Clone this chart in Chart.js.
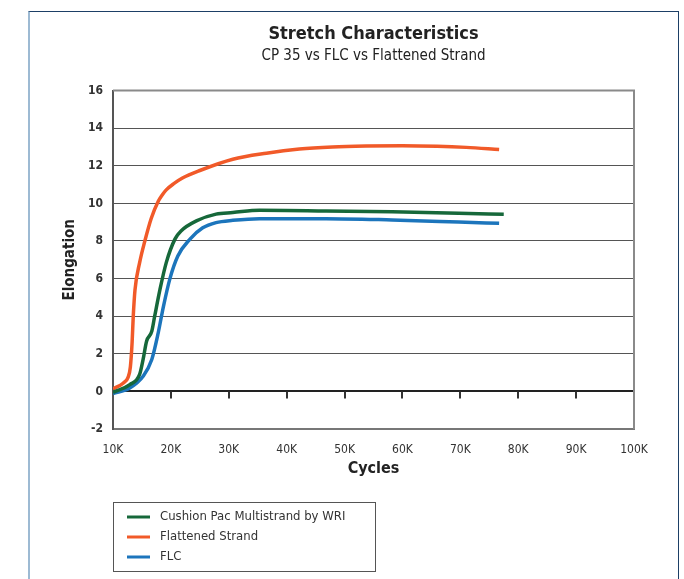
<!DOCTYPE html>
<html>
<head>
<meta charset="utf-8">
<script src="https://cdn.jsdelivr.net/npm/chart.js@4/dist/chart.umd.min.js"></script>
<style>
  body { margin: 0; background: #fff; }
  #frame {
    position: absolute; left: 28px; top: 11px; width: 648px; height: 600px;
    border-top: 1px solid #1d3f66; border-right: 1.5px solid #1d3f66; border-left: 2px solid #9dbad3;
  }
  #chart { position: absolute; left: 0; top: 0; }
</style>
</head>
<body>
<div id="frame"></div>
<canvas id="chart" width="684" height="579"></canvas>
<script>
  // cycles in thousands, elongation
  var cushionCycles = [10, 12.9, 14.6, 15.2, 15.8, 16.7, 17.2, 18.1, 19.2, 20.7, 21.8, 24.4, 27.8, 30.7, 35.3, 46.8, 58.2, 69.7, 77.5];
  var cushionElong  = [-0.05, 0.36, 0.9, 1.7, 2.67, 3.2, 4.0, 5.4, 6.85, 8.1, 8.55, 9.07, 9.43, 9.51, 9.64, 9.6, 9.55, 9.48, 9.42];

  var flatCycles = [10, 11.8, 12.6, 13.0, 13.3, 13.5, 13.8, 14.6, 15.5, 16.6, 17.8, 18.5, 19.2, 20.5, 22, 25, 30.7, 36.5, 42.2, 47.9, 53.7, 60, 66, 71, 76.7];
  var flatElong  = [0.13, 0.45, 0.75, 1.3, 2.6, 4.0, 5.4, 6.85, 8.0, 9.2, 10.1, 10.45, 10.72, 11.05, 11.35, 11.75, 12.35, 12.67, 12.89, 13.0, 13.05, 13.07, 13.04, 12.98, 12.87];

  var flcCycles = [10, 12.9, 15.2, 16.7, 17.8, 18.7, 19.8, 21.2, 23.3, 25.5, 27.8, 30.7, 35.3, 46.8, 58.2, 69.7, 76.7];
  var flcElong  = [-0.12, 0.18, 0.8, 1.7, 3.1, 4.5, 5.96, 7.2, 8.1, 8.7, 8.98, 9.1, 9.19, 9.19, 9.12, 9.01, 8.94];

  var seriesNames = ['Cushion Pac Multistrand by WRI', 'Flattened Strand', 'FLC'];
  var seriesColors = ['rgb(22,104,58)', 'rgb(241,90,41)', 'rgb(28,117,188)'];

  var FONT = "'Liberation Sans Narrow', 'DejaVu Sans Condensed', 'Roboto Condensed', sans-serif";

  function toPoints(xs, ys) {
    return xs.map(function (x, i) { return { x: x, y: ys[i] }; });
  }

  // top/right frame of the plot, ticks on the zero line and the boxed legend
  var extras = {
    id: 'extras',
    beforeDatasetsDraw: function (chart) {
      var ctx = chart.ctx, a = chart.chartArea, xs = chart.scales.x, ys = chart.scales.y;
      ctx.save();
      ctx.strokeStyle = '#8a8a8a';
      ctx.lineWidth = 2;
      ctx.beginPath();
      ctx.moveTo(a.left, a.top);
      ctx.lineTo(a.right, a.top);
      ctx.lineTo(a.right, a.bottom);
      ctx.stroke();
      var y0 = ys.getPixelForValue(0);
      ctx.strokeStyle = '#333';
      ctx.lineWidth = 2;
      xs.ticks.forEach(function (t) {
        if (t.value <= xs.min || t.value >= xs.max) return;
        var px = Math.round(xs.getPixelForValue(t.value));
        ctx.beginPath();
        ctx.moveTo(px, y0);
        ctx.lineTo(px, y0 + 7);
        ctx.stroke();
      });
      ctx.restore();
    },
    afterDraw: function (chart) {
      var ctx = chart.ctx, a = chart.chartArea;
      var left = a.left, top = chart.scales.x.bottom + 21;
      ctx.save();
      ctx.strokeStyle = '#555';
      ctx.lineWidth = 1;
      ctx.strokeRect(left + 0.5, top + 0.5, 262, 69);
      ctx.font = '13px ' + FONT;
      ctx.textBaseline = 'middle';
      chart.data.datasets.forEach(function (ds, i) {
        var y = top + 15 + i * 20;
        ctx.strokeStyle = ds.borderColor;
        ctx.lineWidth = 3;
        ctx.beginPath();
        ctx.moveTo(left + 14, y);
        ctx.lineTo(left + 37, y);
        ctx.stroke();
        ctx.fillStyle = '#333';
        ctx.fillText(ds.label, left + 47, y);
      });
      ctx.restore();
    }
  };

  var datasets = [
    toPoints(cushionCycles, cushionElong),
    toPoints(flatCycles, flatElong),
    toPoints(flcCycles, flcElong)
  ].map(function (pts, i) {
    return {
      label: seriesNames[i],
      data: pts,
      borderColor: seriesColors[i],
      backgroundColor: seriesColors[i],
      borderWidth: 3.5,
      pointRadius: 0,
      cubicInterpolationMode: 'monotone',
      fill: false
    };
  });

  new Chart(document.getElementById('chart').getContext('2d'), {
    type: 'line',
    data: { datasets: datasets },
    plugins: [extras],
    options: {
      responsive: false,
      animation: false,
      layout: { padding: { left: 0, right: 50, top: 0, bottom: 98 } },
      plugins: {
        legend: { display: false },
        tooltip: { enabled: false },
        title: {
          display: true,
          fullSize: false,
          text: 'Stretch Characteristics',
          color: '#222',
          font: { family: FONT, size: 18, weight: 'bold' },
          padding: { top: 24, bottom: 1 }
        },
        subtitle: {
          display: true,
          fullSize: false,
          text: 'CP 35 vs FLC vs Flattened Strand',
          color: '#222',
          font: { family: FONT, size: 15 },
          padding: { top: 1, bottom: 25 }
        }
      },
      scales: {
        x: {
          type: 'linear',
          min: 10,
          max: 100,
          afterFit: function (scale) { scale.height = 52; },
          ticks: {
            stepSize: 10,
            padding: 6,
            color: '#333',
            font: { family: FONT, size: 12 },
            callback: function (v) { return v + 'K'; }
          },
          grid: { display: false },
          border: { color: '#777', width: 2 },
          title: {
            display: true,
            text: 'Cycles',
            color: '#222',
            font: { family: FONT, size: 16, weight: 'bold' },
            padding: { top: 0, bottom: 3 }
          }
        },
        y: {
          min: -2,
          max: 16,
          afterFit: function (scale) { scale.width = 113; },
          ticks: {
            stepSize: 2,
            padding: 10,
            color: '#333',
            font: { family: FONT, size: 12, weight: 'bold' }
          },
          grid: {
            drawTicks: false,
            color: function (c) { return c.tick && c.tick.value === 0 ? '#222' : '#555'; },
            lineWidth: function (c) { return c.tick && c.tick.value === 0 ? 2 : 1; }
          },
          border: { color: '#555', width: 2 },
          title: {
            display: true,
            text: 'Elongation',
            color: '#222',
            font: { family: FONT, size: 15, weight: 'bold' },
            padding: { top: 61, bottom: 0 }
          }
        }
      }
    }
  });
</script>
</body>
</html>
